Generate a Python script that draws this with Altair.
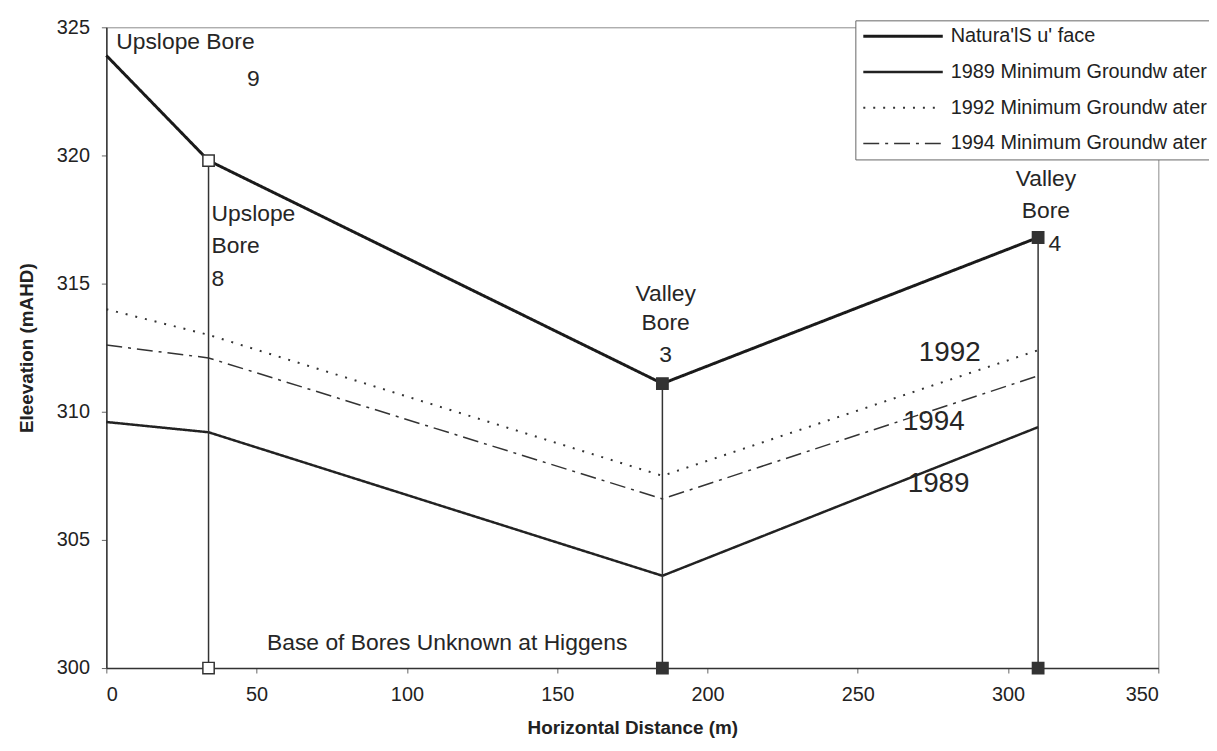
import altair as alt
import pandas as pd

# ---- data ----
bore_x = [0, 34, 185, 310]
surface = [323.9, 319.8, 311.1, 316.8]
gw1989 = [309.6, 309.2, 303.6, 309.4]
gw1992 = [314.0, 313.0, 307.5, 312.4]
gw1994 = [312.6, 312.1, 306.6, 311.4]

series_names = [
    "Natura'lS u' face",
    "1989 Minimum Groundw ater",
    "1992 Minimum Groundw ater",
    "1994 Minimum Groundw ater",
]
series_values = [surface, gw1989, gw1992, gw1994]

# bore casings (x, top) down to 300
casing_x = [34, 185, 310]
casing_top = [319.8, 311.1, 316.8]
casing_base = [300, 300, 300]

marker_x = [34, 34, 185, 185, 310, 310]
marker_y = [319.8, 300, 311.1, 300, 316.8, 300]
marker_fill = ["open", "open", "filled", "filled", "filled", "filled"]

left_text = ["Upslope Bore", "Upslope", "Bore", "8"]
left_x = [3.3, 35.0, 35.0, 35.0]
left_y = [324.42, 317.71, 316.47, 315.19]

center_text = ["9", "Valley", "Bore", "3", "Valley", "Bore", "4",
               "Base of Bores Unknown at Higgens"]
center_x = [48.9, 186.1, 186.1, 186.1, 312.6, 312.6, 315.6, 113.4]
center_y = [322.98, 314.61, 313.45, 312.21, 319.07, 317.83, 316.55, 300.97]

year_text = ["1992", "1994", "1989"]
year_x = [280.6, 275.3, 276.9]
year_y = [312.29, 309.61, 307.17]

# ---- tables ----
rows = []
for name, vals in zip(series_names, series_values):
    for xv, yv in zip(bore_x, vals):
        rows.append({"series": name, "x": xv, "y": yv})
lines_df = pd.DataFrame(rows)
casing_df = pd.DataFrame({"x": casing_x, "top": casing_top, "base": casing_base})
marker_df = pd.DataFrame({"x": marker_x, "y": marker_y, "kind": marker_fill})
left_df = pd.DataFrame({"t": left_text, "x": left_x, "y": left_y})
center_df = pd.DataFrame({"t": center_text, "x": center_x, "y": center_y})
year_df = pd.DataFrame({"t": year_text, "x": year_x, "y": year_y})

FONT = "Liberation Sans"
xs = alt.Scale(domain=[0, 350], nice=False, zero=False)
ys = alt.Scale(domain=[300, 325], nice=False, zero=False)

xenc = alt.X("x:Q", scale=xs, title="Horizontal Distance (m)",
             axis=alt.Axis(values=[0, 50, 100, 150, 200, 250, 300, 350]))
yenc = alt.Y("y:Q", scale=ys, title="Eleevation (mAHD)",
             axis=alt.Axis(values=[300, 305, 310, 315, 320, 325]))

lines = alt.Chart(lines_df).mark_line(strokeCap="butt").encode(
    x=xenc,
    y=yenc,
    detail="series:N",
    strokeDash=alt.StrokeDash(
        "series:N",
        scale=alt.Scale(domain=series_names,
                        range=[[1, 0], [1, 0], [2, 8], [16, 6, 3, 6]]),
        sort=series_names,
        legend=alt.Legend(title=None),
    ),
    strokeWidth=alt.StrokeWidth(
        "series:N",
        scale=alt.Scale(domain=series_names, range=[3, 1.5, 2, 2]),
        sort=series_names,
        legend=alt.Legend(title=None),
    ),
    color=alt.Color(
        "series:N",
        scale=alt.Scale(domain=series_names,
                        range=["#1a1a1a", "#222222", "#333333", "#333333"]),
        sort=series_names,
        legend=alt.Legend(title=None),
    ),
)

casings = alt.Chart(casing_df).mark_rule(color="#333333", strokeWidth=1.5).encode(
    x=alt.X("x:Q", scale=xs),
    y=alt.Y("top:Q", scale=ys),
    y2="base:Q",
)

markers = alt.Chart(marker_df).mark_point(shape="square", size=130, strokeWidth=1.5, opacity=1).encode(
    x=alt.X("x:Q", scale=xs),
    y=alt.Y("y:Q", scale=ys),
    fill=alt.Fill("kind:N", scale=alt.Scale(domain=["open", "filled"], range=["white", "#333333"]),
                  legend=None),
    stroke=alt.value("#333333"),
)

left_ann = alt.Chart(left_df).mark_text(font=FONT, fontSize=23, color="#262626", baseline="middle",
                                        align="left").encode(
    x=alt.X("x:Q", scale=xs),
    y=alt.Y("y:Q", scale=ys),
    text="t:N",
)

center_ann = alt.Chart(center_df).mark_text(font=FONT, fontSize=23, color="#262626", baseline="middle",
                                            align="center").encode(
    x=alt.X("x:Q", scale=xs),
    y=alt.Y("y:Q", scale=ys),
    text="t:N",
)

years = alt.Chart(year_df).mark_text(font=FONT, fontSize=28, color="#262626", baseline="middle",
                                     align="center").encode(
    x=alt.X("x:Q", scale=xs),
    y=alt.Y("y:Q", scale=ys),
    text="t:N",
)

chart = alt.layer(lines, casings, markers, left_ann, center_ann, years).properties(
    width=1059,
    height=645,
    autosize=alt.AutoSizeParams(type="none"),
    padding={"left": 99, "top": 17, "right": 51, "bottom": 70},
    background="white",
).configure_view(
    stroke="#8a8a8a", strokeWidth=1
).configure_axis(
    grid=False,
    domainColor="#333333",
    domainWidth=1.5,
    tickColor="#666666",
    tickSize=5,
    labelFont=FONT,
    labelFontSize=20,
    labelColor="#222222",
    labelPadding=12,
    titleFont=FONT,
    titleFontSize=19,
    titleFontWeight="bold",
    titleColor="#222222",
).configure_axisX(
    titlePadding=14,
).configure_axisY(
    titlePadding=20,
).configure_legend(
    orient="none",
    legendX=754,
    legendY=-7,
    strokeColor="#666666",
    fillColor="white",
    padding=6,
    labelFont=FONT,
    labelFontSize=20,
    labelColor="#222222",
    labelLimit=500,
    symbolType="M-1,0H9",
    symbolSize=256,
    rowPadding=16,
    labelOffset=70,
)

chart.save("out.html", embed_options={"renderer": "svg", "actions": False})
